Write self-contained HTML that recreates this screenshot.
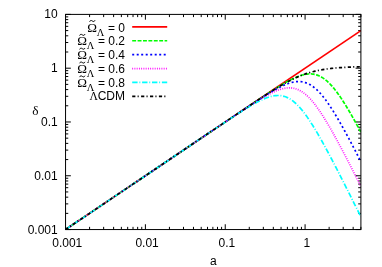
<!DOCTYPE html>
<html><head><meta charset="utf-8"><title>plot</title>
<style>html,body{margin:0;padding:0;background:#fff;}svg{display:block;}</style></head>
<body>
<svg width="382" height="267" viewBox="0 0 382 267">
<rect width="382" height="267" fill="#fff"/>
<path d="M65.55,229.55h5.3M360.9,229.55h-5.3M89.59,229.55v-2.7M89.59,14.4v2.7M65.55,213.36h2.7M360.9,213.36h-2.7M103.65,229.55v-2.7M103.65,14.4v2.7M65.55,203.89h2.7M360.9,203.89h-2.7M113.62,229.55v-2.7M113.62,14.4v2.7M65.55,197.17h2.7M360.9,197.17h-2.7M121.36,229.55v-2.7M121.36,14.4v2.7M65.55,191.95h2.7M360.9,191.95h-2.7M127.68,229.55v-2.7M127.68,14.4v2.7M65.55,187.70h2.7M360.9,187.70h-2.7M133.03,229.55v-2.7M133.03,14.4v2.7M65.55,184.09h2.7M360.9,184.09h-2.7M137.66,229.55v-2.7M137.66,14.4v2.7M65.55,180.98h2.7M360.9,180.98h-2.7M141.74,229.55v-2.7M141.74,14.4v2.7M65.55,178.22h2.7M360.9,178.22h-2.7M145.40,229.55v-5.3M145.40,14.4v5.3M65.55,175.76h5.3M360.9,175.76h-5.3M169.43,229.55v-2.7M169.43,14.4v2.7M65.55,159.57h2.7M360.9,159.57h-2.7M183.49,229.55v-2.7M183.49,14.4v2.7M65.55,150.10h2.7M360.9,150.10h-2.7M193.47,229.55v-2.7M193.47,14.4v2.7M65.55,143.38h2.7M360.9,143.38h-2.7M201.21,229.55v-2.7M201.21,14.4v2.7M65.55,138.17h2.7M360.9,138.17h-2.7M207.53,229.55v-2.7M207.53,14.4v2.7M65.55,133.91h2.7M360.9,133.91h-2.7M212.87,229.55v-2.7M212.87,14.4v2.7M65.55,130.31h2.7M360.9,130.31h-2.7M217.51,229.55v-2.7M217.51,14.4v2.7M65.55,127.19h2.7M360.9,127.19h-2.7M221.59,229.55v-2.7M221.59,14.4v2.7M65.55,124.44h2.7M360.9,124.44h-2.7M225.24,229.55v-5.3M225.24,14.4v5.3M65.55,121.97h5.3M360.9,121.97h-5.3M249.28,229.55v-2.7M249.28,14.4v2.7M65.55,105.78h2.7M360.9,105.78h-2.7M263.34,229.55v-2.7M263.34,14.4v2.7M65.55,96.31h2.7M360.9,96.31h-2.7M273.32,229.55v-2.7M273.32,14.4v2.7M65.55,89.59h2.7M360.9,89.59h-2.7M281.05,229.55v-2.7M281.05,14.4v2.7M65.55,84.38h2.7M360.9,84.38h-2.7M287.38,229.55v-2.7M287.38,14.4v2.7M65.55,80.12h2.7M360.9,80.12h-2.7M292.72,229.55v-2.7M292.72,14.4v2.7M65.55,76.52h2.7M360.9,76.52h-2.7M297.35,229.55v-2.7M297.35,14.4v2.7M65.55,73.40h2.7M360.9,73.40h-2.7M301.44,229.55v-2.7M301.44,14.4v2.7M65.55,70.65h2.7M360.9,70.65h-2.7M305.09,229.55v-5.3M305.09,14.4v5.3M65.55,68.19h5.3M360.9,68.19h-5.3M329.13,229.55v-2.7M329.13,14.4v2.7M65.55,52.00h2.7M360.9,52.00h-2.7M343.19,229.55v-2.7M343.19,14.4v2.7M65.55,42.52h2.7M360.9,42.52h-2.7M353.16,229.55v-2.7M353.16,14.4v2.7M65.55,35.80h2.7M360.9,35.80h-2.7M360.90,229.55v-2.7M360.90,14.4v2.7M65.55,30.59h2.7M360.9,30.59h-2.7M65.55,26.33h2.7M360.9,26.33h-2.7M65.55,22.73h2.7M360.9,22.73h-2.7M65.55,19.61h2.7M360.9,19.61h-2.7M65.55,16.86h2.7M360.9,16.86h-2.7M65.55,14.40h5.3M360.9,14.40h-5.3" stroke="#000" stroke-width="1" fill="none"/>
<clipPath id="c"><rect x="65.55" y="14.4" width="295.34999999999997" height="215.15"/></clipPath>
<g clip-path="url(#c)" fill="none" stroke-linejoin="round">
<path d="M65.55,229.55 L360.90,30.59" stroke="#ff0000" stroke-width="1.7"/>
<path d="M65.55,229.55 L66.29,229.05 L67.03,228.55 L67.77,228.05 L68.51,227.56 L69.25,227.06 L69.99,226.56 L70.73,226.06 L71.47,225.56 L72.21,225.06 L72.95,224.56 L73.69,224.06 L74.43,223.57 L75.17,223.07 L75.91,222.57 L76.65,222.07 L77.39,221.57 L78.13,221.07 L78.87,220.57 L79.61,220.08 L80.35,219.58 L81.09,219.08 L81.83,218.58 L82.58,218.08 L83.32,217.58 L84.06,217.08 L84.80,216.59 L85.54,216.09 L86.28,215.59 L87.02,215.09 L87.76,214.59 L88.50,214.09 L89.24,213.59 L89.98,213.09 L90.72,212.60 L91.46,212.10 L92.20,211.60 L92.94,211.10 L93.68,210.60 L94.42,210.10 L95.16,209.60 L95.90,209.11 L96.64,208.61 L97.38,208.11 L98.12,207.61 L98.86,207.11 L99.60,206.61 L100.34,206.11 L101.08,205.62 L101.82,205.12 L102.56,204.62 L103.30,204.12 L104.04,203.62 L104.78,203.12 L105.52,202.62 L106.26,202.12 L107.00,201.63 L107.74,201.13 L108.48,200.63 L109.22,200.13 L109.96,199.63 L110.70,199.13 L111.44,198.63 L112.18,198.14 L112.92,197.64 L113.66,197.14 L114.40,196.64 L115.15,196.14 L115.89,195.64 L116.63,195.14 L117.37,194.65 L118.11,194.15 L118.85,193.65 L119.59,193.15 L120.33,192.65 L121.07,192.15 L121.81,191.65 L122.55,191.15 L123.29,190.66 L124.03,190.16 L124.77,189.66 L125.51,189.16 L126.25,188.66 L126.99,188.16 L127.73,187.66 L128.47,187.17 L129.21,186.67 L129.95,186.17 L130.69,185.67 L131.43,185.17 L132.17,184.67 L132.91,184.17 L133.65,183.67 L134.39,183.18 L135.13,182.68 L135.87,182.18 L136.61,181.68 L137.35,181.18 L138.09,180.68 L138.83,180.18 L139.57,179.69 L140.31,179.19 L141.05,178.69 L141.79,178.19 L142.53,177.69 L143.27,177.19 L144.01,176.69 L144.75,176.20 L145.49,175.70 L146.23,175.20 L146.97,174.70 L147.72,174.20 L148.46,173.70 L149.20,173.20 L149.94,172.70 L150.68,172.21 L151.42,171.71 L152.16,171.21 L152.90,170.71 L153.64,170.21 L154.38,169.71 L155.12,169.21 L155.86,168.72 L156.60,168.22 L157.34,167.72 L158.08,167.22 L158.82,166.72 L159.56,166.22 L160.30,165.72 L161.04,165.23 L161.78,164.73 L162.52,164.23 L163.26,163.73 L164.00,163.23 L164.74,162.73 L165.48,162.23 L166.22,161.73 L166.96,161.24 L167.70,160.74 L168.44,160.24 L169.18,159.74 L169.92,159.24 L170.66,158.74 L171.40,158.24 L172.14,157.75 L172.88,157.25 L173.62,156.75 L174.36,156.25 L175.10,155.75 L175.84,155.25 L176.58,154.75 L177.32,154.26 L178.06,153.76 L178.80,153.26 L179.54,152.76 L180.28,152.26 L181.03,151.76 L181.77,151.26 L182.51,150.76 L183.25,150.27 L183.99,149.77 L184.73,149.27 L185.47,148.77 L186.21,148.27 L186.95,147.77 L187.69,147.27 L188.43,146.78 L189.17,146.28 L189.91,145.78 L190.65,145.28 L191.39,144.78 L192.13,144.28 L192.87,143.78 L193.61,143.29 L194.35,142.79 L195.09,142.29 L195.83,141.79 L196.57,141.29 L197.31,140.79 L198.05,140.29 L198.79,139.80 L199.53,139.30 L200.27,138.80 L201.01,138.30 L201.75,137.80 L202.49,137.30 L203.23,136.80 L203.97,136.30 L204.71,135.81 L205.45,135.31 L206.19,134.81 L206.93,134.31 L207.67,133.81 L208.41,133.31 L209.15,132.82 L209.89,132.32 L210.63,131.82 L211.37,131.32 L212.11,130.82 L212.85,130.32 L213.60,129.82 L214.34,129.33 L215.08,128.83 L215.82,128.33 L216.56,127.83 L217.30,127.33 L218.04,126.83 L218.78,126.33 L219.52,125.84 L220.26,125.34 L221.00,124.84 L221.74,124.34 L222.48,123.84 L223.22,123.34 L223.96,122.85 L224.70,122.35 L225.44,121.85 L226.18,121.35 L226.92,120.85 L227.66,120.36 L228.40,119.86 L229.14,119.36 L229.88,118.86 L230.62,118.36 L231.36,117.87 L232.10,117.37 L232.84,116.87 L233.58,116.37 L234.32,115.87 L235.06,115.38 L235.80,114.88 L236.54,114.38 L237.28,113.88 L238.02,113.39 L238.76,112.89 L239.50,112.39 L240.24,111.90 L240.98,111.40 L241.72,110.90 L242.46,110.41 L243.20,109.91 L243.94,109.41 L244.68,108.92 L245.42,108.42 L246.17,107.92 L246.91,107.43 L247.65,106.93 L248.39,106.44 L249.13,105.94 L249.87,105.45 L250.61,104.95 L251.35,104.46 L252.09,103.96 L252.83,103.47 L253.57,102.98 L254.31,102.48 L255.05,101.99 L255.79,101.50 L256.53,101.00 L257.27,100.51 L258.01,100.02 L258.75,99.53 L259.49,99.04 L260.23,98.55 L260.97,98.06 L261.71,97.57 L262.45,97.08 L263.19,96.60 L263.93,96.11 L264.67,95.62 L265.41,95.14 L266.15,94.66 L266.89,94.17 L267.63,93.69 L268.37,93.21 L269.11,92.73 L269.85,92.25 L270.59,91.77 L271.33,91.30 L272.07,90.82 L272.81,90.35 L273.55,89.88 L274.29,89.41 L275.03,88.94 L275.77,88.48 L276.51,88.02 L277.25,87.56 L277.99,87.10 L278.73,86.64 L279.48,86.19 L280.22,85.74 L280.96,85.29 L281.70,84.85 L282.44,84.41 L283.18,83.97 L283.92,83.54 L284.66,83.11 L285.40,82.69 L286.14,82.27 L286.88,81.86 L287.62,81.45 L288.36,81.05 L289.10,80.65 L289.84,80.26 L290.58,79.87 L291.32,79.50 L292.06,79.13 L292.80,78.77 L293.54,78.42 L294.28,78.07 L295.02,77.74 L295.76,77.41 L296.50,77.10 L297.24,76.79 L297.98,76.50 L298.72,76.22 L299.46,75.95 L300.20,75.70 L300.94,75.46 L301.68,75.24 L302.42,75.02 L303.16,74.83 L303.90,74.65 L304.64,74.49 L305.38,74.35 L306.12,74.23 L306.86,74.12 L307.60,74.04 L308.34,73.98 L309.08,73.94 L309.82,73.92 L310.56,73.92 L311.30,73.95 L312.05,74.00 L312.79,74.08 L313.53,74.19 L314.27,74.32 L315.01,74.48 L315.75,74.66 L316.49,74.87 L317.23,75.12 L317.97,75.39 L318.71,75.69 L319.45,76.02 L320.19,76.38 L320.93,76.77 L321.67,77.19 L322.41,77.64 L323.15,78.12 L323.89,78.63 L324.63,79.17 L325.37,79.74 L326.11,80.34 L326.85,80.96 L327.59,81.62 L328.33,82.31 L329.07,83.03 L329.81,83.77 L330.55,84.54 L331.29,85.34 L332.03,86.16 L332.77,87.01 L333.51,87.89 L334.25,88.79 L334.99,89.72 L335.73,90.66 L336.47,91.63 L337.21,92.63 L337.95,93.64 L338.69,94.67 L339.43,95.73 L340.17,96.80 L340.91,97.89 L341.65,99.00 L342.39,100.13 L343.13,101.27 L343.87,102.43 L344.62,103.61 L345.36,104.80 L346.10,106.00 L346.84,107.22 L347.58,108.45 L348.32,109.69 L349.06,110.95 L349.80,112.21 L350.54,113.49 L351.28,114.78 L352.02,116.07 L352.76,117.38 L353.50,118.70 L354.24,120.02 L354.98,121.36 L355.72,122.70 L356.46,124.05 L357.20,125.40 L357.94,126.76 L358.68,128.13 L359.42,129.51 L360.16,130.89 L360.90,132.28" stroke="#00ff00" stroke-width="1.7" stroke-dasharray="3.90,1.50"/>
<path d="M65.55,229.55 L66.29,229.05 L67.03,228.55 L67.77,228.05 L68.51,227.56 L69.25,227.06 L69.99,226.56 L70.73,226.06 L71.47,225.56 L72.21,225.06 L72.95,224.56 L73.69,224.06 L74.43,223.57 L75.17,223.07 L75.91,222.57 L76.65,222.07 L77.39,221.57 L78.13,221.07 L78.87,220.57 L79.61,220.08 L80.35,219.58 L81.09,219.08 L81.83,218.58 L82.58,218.08 L83.32,217.58 L84.06,217.08 L84.80,216.59 L85.54,216.09 L86.28,215.59 L87.02,215.09 L87.76,214.59 L88.50,214.09 L89.24,213.59 L89.98,213.09 L90.72,212.60 L91.46,212.10 L92.20,211.60 L92.94,211.10 L93.68,210.60 L94.42,210.10 L95.16,209.60 L95.90,209.11 L96.64,208.61 L97.38,208.11 L98.12,207.61 L98.86,207.11 L99.60,206.61 L100.34,206.11 L101.08,205.62 L101.82,205.12 L102.56,204.62 L103.30,204.12 L104.04,203.62 L104.78,203.12 L105.52,202.62 L106.26,202.12 L107.00,201.63 L107.74,201.13 L108.48,200.63 L109.22,200.13 L109.96,199.63 L110.70,199.13 L111.44,198.63 L112.18,198.14 L112.92,197.64 L113.66,197.14 L114.40,196.64 L115.15,196.14 L115.89,195.64 L116.63,195.14 L117.37,194.65 L118.11,194.15 L118.85,193.65 L119.59,193.15 L120.33,192.65 L121.07,192.15 L121.81,191.65 L122.55,191.15 L123.29,190.66 L124.03,190.16 L124.77,189.66 L125.51,189.16 L126.25,188.66 L126.99,188.16 L127.73,187.66 L128.47,187.17 L129.21,186.67 L129.95,186.17 L130.69,185.67 L131.43,185.17 L132.17,184.67 L132.91,184.17 L133.65,183.67 L134.39,183.18 L135.13,182.68 L135.87,182.18 L136.61,181.68 L137.35,181.18 L138.09,180.68 L138.83,180.18 L139.57,179.69 L140.31,179.19 L141.05,178.69 L141.79,178.19 L142.53,177.69 L143.27,177.19 L144.01,176.69 L144.75,176.20 L145.49,175.70 L146.23,175.20 L146.97,174.70 L147.72,174.20 L148.46,173.70 L149.20,173.20 L149.94,172.70 L150.68,172.21 L151.42,171.71 L152.16,171.21 L152.90,170.71 L153.64,170.21 L154.38,169.71 L155.12,169.21 L155.86,168.72 L156.60,168.22 L157.34,167.72 L158.08,167.22 L158.82,166.72 L159.56,166.22 L160.30,165.72 L161.04,165.23 L161.78,164.73 L162.52,164.23 L163.26,163.73 L164.00,163.23 L164.74,162.73 L165.48,162.23 L166.22,161.73 L166.96,161.24 L167.70,160.74 L168.44,160.24 L169.18,159.74 L169.92,159.24 L170.66,158.74 L171.40,158.24 L172.14,157.75 L172.88,157.25 L173.62,156.75 L174.36,156.25 L175.10,155.75 L175.84,155.25 L176.58,154.75 L177.32,154.26 L178.06,153.76 L178.80,153.26 L179.54,152.76 L180.28,152.26 L181.03,151.76 L181.77,151.26 L182.51,150.76 L183.25,150.27 L183.99,149.77 L184.73,149.27 L185.47,148.77 L186.21,148.27 L186.95,147.77 L187.69,147.27 L188.43,146.78 L189.17,146.28 L189.91,145.78 L190.65,145.28 L191.39,144.78 L192.13,144.28 L192.87,143.78 L193.61,143.29 L194.35,142.79 L195.09,142.29 L195.83,141.79 L196.57,141.29 L197.31,140.79 L198.05,140.29 L198.79,139.80 L199.53,139.30 L200.27,138.80 L201.01,138.30 L201.75,137.80 L202.49,137.30 L203.23,136.81 L203.97,136.31 L204.71,135.81 L205.45,135.31 L206.19,134.81 L206.93,134.31 L207.67,133.81 L208.41,133.32 L209.15,132.82 L209.89,132.32 L210.63,131.82 L211.37,131.32 L212.11,130.82 L212.85,130.33 L213.60,129.83 L214.34,129.33 L215.08,128.83 L215.82,128.33 L216.56,127.84 L217.30,127.34 L218.04,126.84 L218.78,126.34 L219.52,125.84 L220.26,125.35 L221.00,124.85 L221.74,124.35 L222.48,123.85 L223.22,123.35 L223.96,122.86 L224.70,122.36 L225.44,121.86 L226.18,121.36 L226.92,120.87 L227.66,120.37 L228.40,119.87 L229.14,119.38 L229.88,118.88 L230.62,118.38 L231.36,117.89 L232.10,117.39 L232.84,116.89 L233.58,116.40 L234.32,115.90 L235.06,115.40 L235.80,114.91 L236.54,114.41 L237.28,113.92 L238.02,113.42 L238.76,112.93 L239.50,112.43 L240.24,111.94 L240.98,111.44 L241.72,110.95 L242.46,110.46 L243.20,109.96 L243.94,109.47 L244.68,108.98 L245.42,108.49 L246.17,107.99 L246.91,107.50 L247.65,107.01 L248.39,106.52 L249.13,106.03 L249.87,105.54 L250.61,105.05 L251.35,104.57 L252.09,104.08 L252.83,103.59 L253.57,103.11 L254.31,102.62 L255.05,102.14 L255.79,101.66 L256.53,101.18 L257.27,100.70 L258.01,100.22 L258.75,99.74 L259.49,99.26 L260.23,98.79 L260.97,98.31 L261.71,97.84 L262.45,97.37 L263.19,96.90 L263.93,96.43 L264.67,95.97 L265.41,95.51 L266.15,95.05 L266.89,94.59 L267.63,94.14 L268.37,93.68 L269.11,93.23 L269.85,92.79 L270.59,92.35 L271.33,91.91 L272.07,91.47 L272.81,91.04 L273.55,90.62 L274.29,90.19 L275.03,89.78 L275.77,89.36 L276.51,88.96 L277.25,88.56 L277.99,88.16 L278.73,87.77 L279.48,87.39 L280.22,87.02 L280.96,86.65 L281.70,86.29 L282.44,85.94 L283.18,85.60 L283.92,85.27 L284.66,84.95 L285.40,84.64 L286.14,84.34 L286.88,84.05 L287.62,83.77 L288.36,83.51 L289.10,83.26 L289.84,83.02 L290.58,82.80 L291.32,82.60 L292.06,82.41 L292.80,82.24 L293.54,82.08 L294.28,81.95 L295.02,81.83 L295.76,81.73 L296.50,81.65 L297.24,81.60 L297.98,81.56 L298.72,81.55 L299.46,81.57 L300.20,81.60 L300.94,81.66 L301.68,81.75 L302.42,81.86 L303.16,82.00 L303.90,82.17 L304.64,82.36 L305.38,82.59 L306.12,82.84 L306.86,83.12 L307.60,83.43 L308.34,83.76 L309.08,84.13 L309.82,84.53 L310.56,84.96 L311.30,85.42 L312.05,85.91 L312.79,86.43 L313.53,86.98 L314.27,87.56 L315.01,88.17 L315.75,88.81 L316.49,89.47 L317.23,90.17 L317.97,90.90 L318.71,91.65 L319.45,92.43 L320.19,93.23 L320.93,94.07 L321.67,94.93 L322.41,95.81 L323.15,96.72 L323.89,97.65 L324.63,98.60 L325.37,99.58 L326.11,100.58 L326.85,101.60 L327.59,102.64 L328.33,103.70 L329.07,104.78 L329.81,105.88 L330.55,106.99 L331.29,108.13 L332.03,109.27 L332.77,110.44 L333.51,111.62 L334.25,112.81 L334.99,114.02 L335.73,115.24 L336.47,116.48 L337.21,117.72 L337.95,118.98 L338.69,120.25 L339.43,121.53 L340.17,122.82 L340.91,124.12 L341.65,125.43 L342.39,126.75 L343.13,128.08 L343.87,129.42 L344.62,130.76 L345.36,132.11 L346.10,133.47 L346.84,134.83 L347.58,136.21 L348.32,137.58 L349.06,138.97 L349.80,140.36 L350.54,141.75 L351.28,143.15 L352.02,144.55 L352.76,145.96 L353.50,147.38 L354.24,148.80 L354.98,150.22 L355.72,151.64 L356.46,153.07 L357.20,154.50 L357.94,155.94 L358.68,157.38 L359.42,158.82 L360.16,160.27 L360.90,161.72" stroke="#0000ff" stroke-width="1.7" stroke-dasharray="2.00,2.50"/>
<path d="M65.55,229.55 L66.29,229.05 L67.03,228.55 L67.77,228.05 L68.51,227.56 L69.25,227.06 L69.99,226.56 L70.73,226.06 L71.47,225.56 L72.21,225.06 L72.95,224.56 L73.69,224.06 L74.43,223.57 L75.17,223.07 L75.91,222.57 L76.65,222.07 L77.39,221.57 L78.13,221.07 L78.87,220.57 L79.61,220.08 L80.35,219.58 L81.09,219.08 L81.83,218.58 L82.58,218.08 L83.32,217.58 L84.06,217.08 L84.80,216.59 L85.54,216.09 L86.28,215.59 L87.02,215.09 L87.76,214.59 L88.50,214.09 L89.24,213.59 L89.98,213.09 L90.72,212.60 L91.46,212.10 L92.20,211.60 L92.94,211.10 L93.68,210.60 L94.42,210.10 L95.16,209.60 L95.90,209.11 L96.64,208.61 L97.38,208.11 L98.12,207.61 L98.86,207.11 L99.60,206.61 L100.34,206.11 L101.08,205.62 L101.82,205.12 L102.56,204.62 L103.30,204.12 L104.04,203.62 L104.78,203.12 L105.52,202.62 L106.26,202.12 L107.00,201.63 L107.74,201.13 L108.48,200.63 L109.22,200.13 L109.96,199.63 L110.70,199.13 L111.44,198.63 L112.18,198.14 L112.92,197.64 L113.66,197.14 L114.40,196.64 L115.15,196.14 L115.89,195.64 L116.63,195.14 L117.37,194.65 L118.11,194.15 L118.85,193.65 L119.59,193.15 L120.33,192.65 L121.07,192.15 L121.81,191.65 L122.55,191.15 L123.29,190.66 L124.03,190.16 L124.77,189.66 L125.51,189.16 L126.25,188.66 L126.99,188.16 L127.73,187.66 L128.47,187.17 L129.21,186.67 L129.95,186.17 L130.69,185.67 L131.43,185.17 L132.17,184.67 L132.91,184.17 L133.65,183.67 L134.39,183.18 L135.13,182.68 L135.87,182.18 L136.61,181.68 L137.35,181.18 L138.09,180.68 L138.83,180.18 L139.57,179.69 L140.31,179.19 L141.05,178.69 L141.79,178.19 L142.53,177.69 L143.27,177.19 L144.01,176.69 L144.75,176.20 L145.49,175.70 L146.23,175.20 L146.97,174.70 L147.72,174.20 L148.46,173.70 L149.20,173.20 L149.94,172.70 L150.68,172.21 L151.42,171.71 L152.16,171.21 L152.90,170.71 L153.64,170.21 L154.38,169.71 L155.12,169.21 L155.86,168.72 L156.60,168.22 L157.34,167.72 L158.08,167.22 L158.82,166.72 L159.56,166.22 L160.30,165.72 L161.04,165.23 L161.78,164.73 L162.52,164.23 L163.26,163.73 L164.00,163.23 L164.74,162.73 L165.48,162.23 L166.22,161.73 L166.96,161.24 L167.70,160.74 L168.44,160.24 L169.18,159.74 L169.92,159.24 L170.66,158.74 L171.40,158.24 L172.14,157.75 L172.88,157.25 L173.62,156.75 L174.36,156.25 L175.10,155.75 L175.84,155.25 L176.58,154.75 L177.32,154.26 L178.06,153.76 L178.80,153.26 L179.54,152.76 L180.28,152.26 L181.03,151.76 L181.77,151.26 L182.51,150.77 L183.25,150.27 L183.99,149.77 L184.73,149.27 L185.47,148.77 L186.21,148.27 L186.95,147.77 L187.69,147.28 L188.43,146.78 L189.17,146.28 L189.91,145.78 L190.65,145.28 L191.39,144.78 L192.13,144.28 L192.87,143.79 L193.61,143.29 L194.35,142.79 L195.09,142.29 L195.83,141.79 L196.57,141.29 L197.31,140.80 L198.05,140.30 L198.79,139.80 L199.53,139.30 L200.27,138.80 L201.01,138.30 L201.75,137.81 L202.49,137.31 L203.23,136.81 L203.97,136.31 L204.71,135.81 L205.45,135.31 L206.19,134.82 L206.93,134.32 L207.67,133.82 L208.41,133.32 L209.15,132.82 L209.89,132.33 L210.63,131.83 L211.37,131.33 L212.11,130.83 L212.85,130.33 L213.60,129.84 L214.34,129.34 L215.08,128.84 L215.82,128.34 L216.56,127.85 L217.30,127.35 L218.04,126.85 L218.78,126.35 L219.52,125.86 L220.26,125.36 L221.00,124.86 L221.74,124.37 L222.48,123.87 L223.22,123.37 L223.96,122.88 L224.70,122.38 L225.44,121.89 L226.18,121.39 L226.92,120.89 L227.66,120.40 L228.40,119.90 L229.14,119.41 L229.88,118.91 L230.62,118.42 L231.36,117.92 L232.10,117.43 L232.84,116.94 L233.58,116.44 L234.32,115.95 L235.06,115.46 L235.80,114.97 L236.54,114.47 L237.28,113.98 L238.02,113.49 L238.76,113.00 L239.50,112.51 L240.24,112.02 L240.98,111.53 L241.72,111.05 L242.46,110.56 L243.20,110.07 L243.94,109.59 L244.68,109.10 L245.42,108.62 L246.17,108.13 L246.91,107.65 L247.65,107.17 L248.39,106.69 L249.13,106.21 L249.87,105.74 L250.61,105.26 L251.35,104.79 L252.09,104.31 L252.83,103.84 L253.57,103.37 L254.31,102.91 L255.05,102.44 L255.79,101.98 L256.53,101.52 L257.27,101.06 L258.01,100.60 L258.75,100.15 L259.49,99.70 L260.23,99.25 L260.97,98.81 L261.71,98.37 L262.45,97.93 L263.19,97.50 L263.93,97.07 L264.67,96.65 L265.41,96.23 L266.15,95.82 L266.89,95.41 L267.63,95.01 L268.37,94.61 L269.11,94.22 L269.85,93.83 L270.59,93.46 L271.33,93.09 L272.07,92.73 L272.81,92.37 L273.55,92.03 L274.29,91.70 L275.03,91.37 L275.77,91.06 L276.51,90.75 L277.25,90.46 L277.99,90.18 L278.73,89.91 L279.48,89.66 L280.22,89.42 L280.96,89.19 L281.70,88.98 L282.44,88.79 L283.18,88.61 L283.92,88.45 L284.66,88.30 L285.40,88.18 L286.14,88.08 L286.88,87.99 L287.62,87.93 L288.36,87.89 L289.10,87.87 L289.84,87.87 L290.58,87.90 L291.32,87.95 L292.06,88.03 L292.80,88.14 L293.54,88.27 L294.28,88.42 L295.02,88.61 L295.76,88.82 L296.50,89.06 L297.24,89.33 L297.98,89.63 L298.72,89.96 L299.46,90.32 L300.20,90.71 L300.94,91.13 L301.68,91.58 L302.42,92.06 L303.16,92.57 L303.90,93.11 L304.64,93.68 L305.38,94.27 L306.12,94.90 L306.86,95.56 L307.60,96.25 L308.34,96.96 L309.08,97.71 L309.82,98.48 L310.56,99.27 L311.30,100.10 L312.05,100.95 L312.79,101.82 L313.53,102.72 L314.27,103.65 L315.01,104.59 L315.75,105.56 L316.49,106.56 L317.23,107.57 L317.97,108.60 L318.71,109.66 L319.45,110.73 L320.19,111.82 L320.93,112.93 L321.67,114.06 L322.41,115.20 L323.15,116.36 L323.89,117.53 L324.63,118.72 L325.37,119.93 L326.11,121.14 L326.85,122.37 L327.59,123.62 L328.33,124.87 L329.07,126.14 L329.81,127.41 L330.55,128.70 L331.29,130.00 L332.03,131.31 L332.77,132.62 L333.51,133.95 L334.25,135.28 L334.99,136.62 L335.73,137.97 L336.47,139.33 L337.21,140.69 L337.95,142.06 L338.69,143.43 L339.43,144.81 L340.17,146.20 L340.91,147.59 L341.65,148.99 L342.39,150.40 L343.13,151.80 L343.87,153.22 L344.62,154.63 L345.36,156.05 L346.10,157.48 L346.84,158.90 L347.58,160.34 L348.32,161.77 L349.06,163.21 L349.80,164.65 L350.54,166.09 L351.28,167.54 L352.02,168.99 L352.76,170.44 L353.50,171.90 L354.24,173.35 L354.98,174.81 L355.72,176.27 L356.46,177.74 L357.20,179.20 L357.94,180.67 L358.68,182.14 L359.42,183.61 L360.16,185.08 L360.90,186.55" stroke="#ff00ff" stroke-width="1.7" stroke-dasharray="0.90,1.35"/>
<path d="M65.55,229.55 L66.29,229.05 L67.03,228.55 L67.77,228.05 L68.51,227.56 L69.25,227.06 L69.99,226.56 L70.73,226.06 L71.47,225.56 L72.21,225.06 L72.95,224.56 L73.69,224.06 L74.43,223.57 L75.17,223.07 L75.91,222.57 L76.65,222.07 L77.39,221.57 L78.13,221.07 L78.87,220.57 L79.61,220.08 L80.35,219.58 L81.09,219.08 L81.83,218.58 L82.58,218.08 L83.32,217.58 L84.06,217.08 L84.80,216.59 L85.54,216.09 L86.28,215.59 L87.02,215.09 L87.76,214.59 L88.50,214.09 L89.24,213.59 L89.98,213.09 L90.72,212.60 L91.46,212.10 L92.20,211.60 L92.94,211.10 L93.68,210.60 L94.42,210.10 L95.16,209.60 L95.90,209.11 L96.64,208.61 L97.38,208.11 L98.12,207.61 L98.86,207.11 L99.60,206.61 L100.34,206.11 L101.08,205.62 L101.82,205.12 L102.56,204.62 L103.30,204.12 L104.04,203.62 L104.78,203.12 L105.52,202.62 L106.26,202.12 L107.00,201.63 L107.74,201.13 L108.48,200.63 L109.22,200.13 L109.96,199.63 L110.70,199.13 L111.44,198.63 L112.18,198.14 L112.92,197.64 L113.66,197.14 L114.40,196.64 L115.15,196.14 L115.89,195.64 L116.63,195.14 L117.37,194.65 L118.11,194.15 L118.85,193.65 L119.59,193.15 L120.33,192.65 L121.07,192.15 L121.81,191.65 L122.55,191.15 L123.29,190.66 L124.03,190.16 L124.77,189.66 L125.51,189.16 L126.25,188.66 L126.99,188.16 L127.73,187.66 L128.47,187.17 L129.21,186.67 L129.95,186.17 L130.69,185.67 L131.43,185.17 L132.17,184.67 L132.91,184.17 L133.65,183.67 L134.39,183.18 L135.13,182.68 L135.87,182.18 L136.61,181.68 L137.35,181.18 L138.09,180.68 L138.83,180.18 L139.57,179.69 L140.31,179.19 L141.05,178.69 L141.79,178.19 L142.53,177.69 L143.27,177.19 L144.01,176.69 L144.75,176.20 L145.49,175.70 L146.23,175.20 L146.97,174.70 L147.72,174.20 L148.46,173.70 L149.20,173.20 L149.94,172.70 L150.68,172.21 L151.42,171.71 L152.16,171.21 L152.90,170.71 L153.64,170.21 L154.38,169.71 L155.12,169.21 L155.86,168.72 L156.60,168.22 L157.34,167.72 L158.08,167.22 L158.82,166.72 L159.56,166.22 L160.30,165.72 L161.04,165.23 L161.78,164.73 L162.52,164.23 L163.26,163.73 L164.00,163.23 L164.74,162.73 L165.48,162.23 L166.22,161.74 L166.96,161.24 L167.70,160.74 L168.44,160.24 L169.18,159.74 L169.92,159.24 L170.66,158.74 L171.40,158.25 L172.14,157.75 L172.88,157.25 L173.62,156.75 L174.36,156.25 L175.10,155.75 L175.84,155.25 L176.58,154.76 L177.32,154.26 L178.06,153.76 L178.80,153.26 L179.54,152.76 L180.28,152.26 L181.03,151.76 L181.77,151.27 L182.51,150.77 L183.25,150.27 L183.99,149.77 L184.73,149.27 L185.47,148.77 L186.21,148.28 L186.95,147.78 L187.69,147.28 L188.43,146.78 L189.17,146.28 L189.91,145.78 L190.65,145.28 L191.39,144.79 L192.13,144.29 L192.87,143.79 L193.61,143.29 L194.35,142.79 L195.09,142.30 L195.83,141.80 L196.57,141.30 L197.31,140.80 L198.05,140.30 L198.79,139.81 L199.53,139.31 L200.27,138.81 L201.01,138.31 L201.75,137.81 L202.49,137.32 L203.23,136.82 L203.97,136.32 L204.71,135.82 L205.45,135.33 L206.19,134.83 L206.93,134.33 L207.67,133.83 L208.41,133.34 L209.15,132.84 L209.89,132.34 L210.63,131.85 L211.37,131.35 L212.11,130.85 L212.85,130.36 L213.60,129.86 L214.34,129.37 L215.08,128.87 L215.82,128.37 L216.56,127.88 L217.30,127.38 L218.04,126.89 L218.78,126.39 L219.52,125.90 L220.26,125.41 L221.00,124.91 L221.74,124.42 L222.48,123.93 L223.22,123.43 L223.96,122.94 L224.70,122.45 L225.44,121.96 L226.18,121.46 L226.92,120.97 L227.66,120.48 L228.40,119.99 L229.14,119.51 L229.88,119.02 L230.62,118.53 L231.36,118.04 L232.10,117.56 L232.84,117.07 L233.58,116.59 L234.32,116.10 L235.06,115.62 L235.80,115.14 L236.54,114.66 L237.28,114.18 L238.02,113.70 L238.76,113.22 L239.50,112.75 L240.24,112.27 L240.98,111.80 L241.72,111.33 L242.46,110.86 L243.20,110.40 L243.94,109.93 L244.68,109.47 L245.42,109.01 L246.17,108.55 L246.91,108.10 L247.65,107.64 L248.39,107.20 L249.13,106.75 L249.87,106.31 L250.61,105.87 L251.35,105.43 L252.09,105.00 L252.83,104.58 L253.57,104.15 L254.31,103.74 L255.05,103.32 L255.79,102.92 L256.53,102.52 L257.27,102.12 L258.01,101.73 L258.75,101.35 L259.49,100.98 L260.23,100.61 L260.97,100.25 L261.71,99.90 L262.45,99.56 L263.19,99.23 L263.93,98.91 L264.67,98.60 L265.41,98.30 L266.15,98.01 L266.89,97.73 L267.63,97.47 L268.37,97.22 L269.11,96.98 L269.85,96.76 L270.59,96.55 L271.33,96.37 L272.07,96.19 L272.81,96.04 L273.55,95.90 L274.29,95.78 L275.03,95.68 L275.77,95.61 L276.51,95.55 L277.25,95.52 L277.99,95.51 L278.73,95.52 L279.48,95.55 L280.22,95.61 L280.96,95.70 L281.70,95.81 L282.44,95.95 L283.18,96.12 L283.92,96.31 L284.66,96.53 L285.40,96.78 L286.14,97.06 L286.88,97.37 L287.62,97.71 L288.36,98.08 L289.10,98.48 L289.84,98.90 L290.58,99.36 L291.32,99.85 L292.06,100.37 L292.80,100.92 L293.54,101.50 L294.28,102.11 L295.02,102.75 L295.76,103.41 L296.50,104.11 L297.24,104.83 L297.98,105.58 L298.72,106.36 L299.46,107.17 L300.20,108.00 L300.94,108.86 L301.68,109.74 L302.42,110.65 L303.16,111.58 L303.90,112.54 L304.64,113.51 L305.38,114.51 L306.12,115.53 L306.86,116.57 L307.60,117.63 L308.34,118.71 L309.08,119.81 L309.82,120.92 L310.56,122.05 L311.30,123.20 L312.05,124.37 L312.79,125.55 L313.53,126.74 L314.27,127.95 L315.01,129.17 L315.75,130.40 L316.49,131.65 L317.23,132.91 L317.97,134.18 L318.71,135.46 L319.45,136.75 L320.19,138.05 L320.93,139.36 L321.67,140.68 L322.41,142.00 L323.15,143.34 L323.89,144.68 L324.63,146.03 L325.37,147.39 L326.11,148.76 L326.85,150.13 L327.59,151.51 L328.33,152.89 L329.07,154.28 L329.81,155.67 L330.55,157.07 L331.29,158.48 L332.03,159.89 L332.77,161.30 L333.51,162.72 L334.25,164.14 L334.99,165.56 L335.73,166.99 L336.47,168.43 L337.21,169.86 L337.95,171.30 L338.69,172.74 L339.43,174.19 L340.17,175.64 L340.91,177.09 L341.65,178.54 L342.39,180.00 L343.13,181.45 L343.87,182.91 L344.62,184.37 L345.36,185.84 L346.10,187.30 L346.84,188.77 L347.58,190.24 L348.32,191.71 L349.06,193.18 L349.80,194.66 L350.54,196.13 L351.28,197.61 L352.02,199.09 L352.76,200.56 L353.50,202.04 L354.24,203.53 L354.98,205.01 L355.72,206.49 L356.46,207.97 L357.20,209.46 L357.94,210.95 L358.68,212.43 L359.42,213.92 L360.16,215.41 L360.90,216.90" stroke="#00ffff" stroke-width="1.7" stroke-dasharray="5.40,1.80,0.90,1.80"/>
<path d="M65.55,229.55 L66.29,229.05 L67.03,228.55 L67.77,228.05 L68.51,227.56 L69.25,227.06 L69.99,226.56 L70.73,226.06 L71.47,225.56 L72.21,225.06 L72.95,224.56 L73.69,224.06 L74.43,223.57 L75.17,223.07 L75.91,222.57 L76.65,222.07 L77.39,221.57 L78.13,221.07 L78.87,220.57 L79.61,220.08 L80.35,219.58 L81.09,219.08 L81.83,218.58 L82.58,218.08 L83.32,217.58 L84.06,217.08 L84.80,216.59 L85.54,216.09 L86.28,215.59 L87.02,215.09 L87.76,214.59 L88.50,214.09 L89.24,213.59 L89.98,213.09 L90.72,212.60 L91.46,212.10 L92.20,211.60 L92.94,211.10 L93.68,210.60 L94.42,210.10 L95.16,209.60 L95.90,209.11 L96.64,208.61 L97.38,208.11 L98.12,207.61 L98.86,207.11 L99.60,206.61 L100.34,206.11 L101.08,205.62 L101.82,205.12 L102.56,204.62 L103.30,204.12 L104.04,203.62 L104.78,203.12 L105.52,202.62 L106.26,202.12 L107.00,201.63 L107.74,201.13 L108.48,200.63 L109.22,200.13 L109.96,199.63 L110.70,199.13 L111.44,198.63 L112.18,198.14 L112.92,197.64 L113.66,197.14 L114.40,196.64 L115.15,196.14 L115.89,195.64 L116.63,195.14 L117.37,194.65 L118.11,194.15 L118.85,193.65 L119.59,193.15 L120.33,192.65 L121.07,192.15 L121.81,191.65 L122.55,191.15 L123.29,190.66 L124.03,190.16 L124.77,189.66 L125.51,189.16 L126.25,188.66 L126.99,188.16 L127.73,187.66 L128.47,187.17 L129.21,186.67 L129.95,186.17 L130.69,185.67 L131.43,185.17 L132.17,184.67 L132.91,184.17 L133.65,183.67 L134.39,183.18 L135.13,182.68 L135.87,182.18 L136.61,181.68 L137.35,181.18 L138.09,180.68 L138.83,180.18 L139.57,179.69 L140.31,179.19 L141.05,178.69 L141.79,178.19 L142.53,177.69 L143.27,177.19 L144.01,176.69 L144.75,176.20 L145.49,175.70 L146.23,175.20 L146.97,174.70 L147.72,174.20 L148.46,173.70 L149.20,173.20 L149.94,172.70 L150.68,172.21 L151.42,171.71 L152.16,171.21 L152.90,170.71 L153.64,170.21 L154.38,169.71 L155.12,169.21 L155.86,168.72 L156.60,168.22 L157.34,167.72 L158.08,167.22 L158.82,166.72 L159.56,166.22 L160.30,165.72 L161.04,165.23 L161.78,164.73 L162.52,164.23 L163.26,163.73 L164.00,163.23 L164.74,162.73 L165.48,162.23 L166.22,161.73 L166.96,161.24 L167.70,160.74 L168.44,160.24 L169.18,159.74 L169.92,159.24 L170.66,158.74 L171.40,158.24 L172.14,157.75 L172.88,157.25 L173.62,156.75 L174.36,156.25 L175.10,155.75 L175.84,155.25 L176.58,154.75 L177.32,154.26 L178.06,153.76 L178.80,153.26 L179.54,152.76 L180.28,152.26 L181.03,151.76 L181.77,151.26 L182.51,150.76 L183.25,150.27 L183.99,149.77 L184.73,149.27 L185.47,148.77 L186.21,148.27 L186.95,147.77 L187.69,147.27 L188.43,146.78 L189.17,146.28 L189.91,145.78 L190.65,145.28 L191.39,144.78 L192.13,144.28 L192.87,143.78 L193.61,143.29 L194.35,142.79 L195.09,142.29 L195.83,141.79 L196.57,141.29 L197.31,140.79 L198.05,140.29 L198.79,139.80 L199.53,139.30 L200.27,138.80 L201.01,138.30 L201.75,137.80 L202.49,137.30 L203.23,136.80 L203.97,136.31 L204.71,135.81 L205.45,135.31 L206.19,134.81 L206.93,134.31 L207.67,133.81 L208.41,133.31 L209.15,132.82 L209.89,132.32 L210.63,131.82 L211.37,131.32 L212.11,130.82 L212.85,130.32 L213.60,129.83 L214.34,129.33 L215.08,128.83 L215.82,128.33 L216.56,127.83 L217.30,127.33 L218.04,126.83 L218.78,126.34 L219.52,125.84 L220.26,125.34 L221.00,124.84 L221.74,124.34 L222.48,123.85 L223.22,123.35 L223.96,122.85 L224.70,122.35 L225.44,121.85 L226.18,121.36 L226.92,120.86 L227.66,120.36 L228.40,119.86 L229.14,119.36 L229.88,118.87 L230.62,118.37 L231.36,117.87 L232.10,117.37 L232.84,116.88 L233.58,116.38 L234.32,115.88 L235.06,115.38 L235.80,114.89 L236.54,114.39 L237.28,113.89 L238.02,113.40 L238.76,112.90 L239.50,112.40 L240.24,111.91 L240.98,111.41 L241.72,110.91 L242.46,110.42 L243.20,109.92 L243.94,109.43 L244.68,108.93 L245.42,108.44 L246.17,107.94 L246.91,107.45 L247.65,106.95 L248.39,106.46 L249.13,105.96 L249.87,105.47 L250.61,104.98 L251.35,104.48 L252.09,103.99 L252.83,103.50 L253.57,103.01 L254.31,102.52 L255.05,102.03 L255.79,101.54 L256.53,101.05 L257.27,100.56 L258.01,100.07 L258.75,99.58 L259.49,99.09 L260.23,98.61 L260.97,98.12 L261.71,97.64 L262.45,97.15 L263.19,96.67 L263.93,96.19 L264.67,95.71 L265.41,95.23 L266.15,94.75 L266.89,94.27 L267.63,93.80 L268.37,93.32 L269.11,92.85 L269.85,92.38 L270.59,91.91 L271.33,91.44 L272.07,90.97 L272.81,90.51 L273.55,90.04 L274.29,89.58 L275.03,89.13 L275.77,88.67 L276.51,88.22 L277.25,87.77 L277.99,87.32 L278.73,86.87 L279.48,86.43 L280.22,85.99 L280.96,85.56 L281.70,85.12 L282.44,84.70 L283.18,84.27 L283.92,83.85 L284.66,83.43 L285.40,83.02 L286.14,82.61 L286.88,82.21 L287.62,81.81 L288.36,81.41 L289.10,81.02 L289.84,80.64 L290.58,80.26 L291.32,79.89 L292.06,79.52 L292.80,79.15 L293.54,78.80 L294.28,78.44 L295.02,78.10 L295.76,77.76 L296.50,77.43 L297.24,77.10 L297.98,76.78 L298.72,76.46 L299.46,76.15 L300.20,75.85 L300.94,75.56 L301.68,75.27 L302.42,74.99 L303.16,74.71 L303.90,74.44 L304.64,74.18 L305.38,73.92 L306.12,73.67 L306.86,73.43 L307.60,73.19 L308.34,72.96 L309.08,72.74 L309.82,72.52 L310.56,72.30 L311.30,72.10 L312.05,71.90 L312.79,71.70 L313.53,71.51 L314.27,71.33 L315.01,71.15 L315.75,70.98 L316.49,70.82 L317.23,70.65 L317.97,70.50 L318.71,70.35 L319.45,70.20 L320.19,70.06 L320.93,69.92 L321.67,69.79 L322.41,69.66 L323.15,69.54 L323.89,69.42 L324.63,69.30 L325.37,69.19 L326.11,69.08 L326.85,68.98 L327.59,68.88 L328.33,68.78 L329.07,68.69 L329.81,68.60 L330.55,68.51 L331.29,68.43 L332.03,68.35 L332.77,68.27 L333.51,68.19 L334.25,68.12 L334.99,68.05 L335.73,67.99 L336.47,67.92 L337.21,67.86 L337.95,67.80 L338.69,67.74 L339.43,67.69 L340.17,67.63 L340.91,67.58 L341.65,67.53 L342.39,67.48 L343.13,67.44 L343.87,67.39 L344.62,67.35 L345.36,67.31 L346.10,67.27 L346.84,67.23 L347.58,67.20 L348.32,67.16 L349.06,67.13 L349.80,67.10 L350.54,67.06 L351.28,67.03 L352.02,67.01 L352.76,66.98 L353.50,66.95 L354.24,66.93 L354.98,66.90 L355.72,66.88 L356.46,66.86 L357.20,66.83 L357.94,66.81 L358.68,66.79 L359.42,66.77 L360.16,66.75 L360.90,66.74" stroke="#000000" stroke-width="1.7" stroke-dasharray="3.2,2.2,1.1,2.4"/>
</g>
<rect x="65.55" y="14.4" width="295.34999999999997" height="215.15" fill="none" stroke="#000" stroke-width="1"/>
<path d="M132.2,26.85H167.2" stroke="#ff0000" stroke-width="1.7" fill="none"/>
<path d="M132.2,40.75H167.2" stroke="#00ff00" stroke-width="1.7" fill="none" stroke-dasharray="3.90,1.50"/>
<path d="M132.2,54.65H167.2" stroke="#0000ff" stroke-width="1.7" fill="none" stroke-dasharray="2.00,2.50"/>
<path d="M132.2,68.55H167.2" stroke="#ff00ff" stroke-width="1.7" fill="none" stroke-dasharray="0.90,1.35"/>
<path d="M132.2,82.45H167.2" stroke="#00ffff" stroke-width="1.7" fill="none" stroke-dasharray="5.40,1.80,0.90,1.80"/>
<path d="M132.2,96.35H167.2" stroke="#000000" stroke-width="1.7" fill="none" stroke-dasharray="3.2,2.2,1.1,2.4"/>
<g font-family="'Liberation Sans', sans-serif" font-size="12" fill="#000" style="will-change:transform">
<text x="57.7" y="18.30" text-anchor="end">10</text>
<text x="57.7" y="72.44" text-anchor="end">1</text>
<text x="57.7" y="126.22" text-anchor="end">0.1</text>
<text x="57.7" y="180.01" text-anchor="end">0.01</text>
<text x="57.7" y="233.80" text-anchor="end">0.001</text>
<text x="67.25" y="246.7" text-anchor="middle">0.001</text>
<text x="147.10" y="246.7" text-anchor="middle">0.01</text>
<text x="226.94" y="246.7" text-anchor="middle">0.1</text>
<text x="306.79" y="246.7" text-anchor="middle">1</text>
<text x="213.4" y="264.7" text-anchor="middle">a</text>
<text x="125" y="31.60" text-anchor="end" xml:space="preserve"> = 0</text>
<text x="96.75" y="35.60" font-family="'Liberation Serif', serif" font-size="10.4">&#923;</text>
<text x="87.35" y="31.60" font-family="'Liberation Serif', serif" font-size="13.1">&#937;</text>
<path d="M89.60,21.70c0.7,-1.5 1.7,-1.5 2.7,-0.7s2.0,0.8 2.7,-0.7" stroke="#000" stroke-width="1" fill="none"/>
<text x="125" y="45.45" text-anchor="end" xml:space="preserve"> = 0.2</text>
<text x="86.74" y="49.45" font-family="'Liberation Serif', serif" font-size="10.4">&#923;</text>
<text x="77.34" y="45.45" font-family="'Liberation Serif', serif" font-size="13.1">&#937;</text>
<path d="M79.59,35.55c0.7,-1.5 1.7,-1.5 2.7,-0.7s2.0,0.8 2.7,-0.7" stroke="#000" stroke-width="1" fill="none"/>
<text x="125" y="59.30" text-anchor="end" xml:space="preserve"> = 0.4</text>
<text x="86.74" y="63.30" font-family="'Liberation Serif', serif" font-size="10.4">&#923;</text>
<text x="77.34" y="59.30" font-family="'Liberation Serif', serif" font-size="13.1">&#937;</text>
<path d="M79.59,49.40c0.7,-1.5 1.7,-1.5 2.7,-0.7s2.0,0.8 2.7,-0.7" stroke="#000" stroke-width="1" fill="none"/>
<text x="125" y="73.15" text-anchor="end" xml:space="preserve"> = 0.6</text>
<text x="86.74" y="77.15" font-family="'Liberation Serif', serif" font-size="10.4">&#923;</text>
<text x="77.34" y="73.15" font-family="'Liberation Serif', serif" font-size="13.1">&#937;</text>
<path d="M79.59,63.25c0.7,-1.5 1.7,-1.5 2.7,-0.7s2.0,0.8 2.7,-0.7" stroke="#000" stroke-width="1" fill="none"/>
<text x="125" y="87.00" text-anchor="end" xml:space="preserve"> = 0.8</text>
<text x="86.74" y="91.00" font-family="'Liberation Serif', serif" font-size="10.4">&#923;</text>
<text x="77.34" y="87.00" font-family="'Liberation Serif', serif" font-size="13.1">&#937;</text>
<path d="M79.59,77.10c0.7,-1.5 1.7,-1.5 2.7,-0.7s2.0,0.8 2.7,-0.7" stroke="#000" stroke-width="1" fill="none"/>
<text x="125" y="100.45" text-anchor="end">CDM</text>
<text x="97.80" y="100.45" text-anchor="end" font-family="'Liberation Serif', serif" font-size="11.6">&#923;</text>
<text x="32.2" y="115.2" font-family="'Liberation Serif', serif" font-size="13.3">&#948;</text>
</g>
</svg>
</body></html>
